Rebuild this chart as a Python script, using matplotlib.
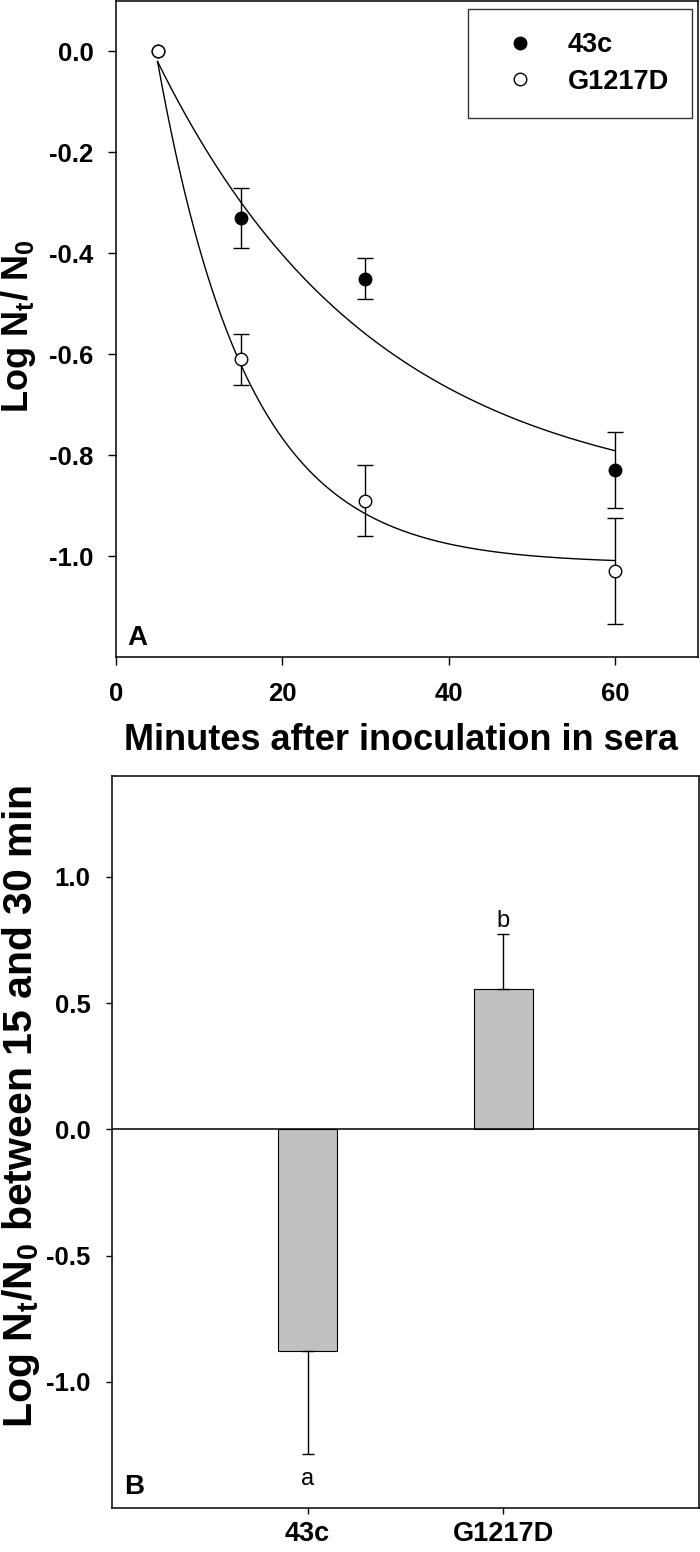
import numpy as np
import matplotlib
matplotlib.use("Agg")
import matplotlib.pyplot as plt
from matplotlib.lines import Line2D

plt.rcParams['font.family'] = ['Liberation Sans', 'DejaVu Sans']
plt.rcParams['mathtext.fontset'] = 'custom'
plt.rcParams['mathtext.rm'] = 'Liberation Sans:bold'
plt.rcParams['mathtext.bf'] = 'Liberation Sans:bold'

# panel A: survival in sera
minutes = [5, 15, 30, 60]
wt_mean = [0.0, -0.33, -0.45, -0.83]
wt_err = [0.0, 0.06, 0.04, 0.075]
mut_mean = [0.0, -0.61, -0.89, -1.03]
mut_err = [0.0, 0.05, 0.07, 0.105]

# fitted decay curves: y = c + a*exp(-k*(t - 5))
wt_fit = [-0.90, 0.88, 0.038]
mut_fit = [-1.015, 0.995, 0.0924]

# panel B: change between 15 and 30 min
strains = ['43c', 'G1217D']
change = [-0.877, 0.555]
change_err = [0.41, 0.22]
letters = ['a', 'b']

fig = plt.figure(figsize=(7, 15.52), dpi=100)

# ---------- panel A ----------
ax1 = fig.add_axes([116/700, 1 - 657/1552, 582/700, 656/1552])

t = np.linspace(5, 60, 200)
for fit in (wt_fit, mut_fit):
    c, a, k = fit
    ax1.plot(t, c + a*np.exp(-k*(t - 5)), color='black', lw=1.0, zorder=2)

ax1.errorbar(minutes[1:], wt_mean[1:], yerr=wt_err[1:], fmt='none', ecolor='black',
             elinewidth=1.0, capsize=6, capthick=1.0, zorder=3)
ax1.errorbar(minutes[1:], mut_mean[1:], yerr=mut_err[1:], fmt='none', ecolor='black',
             elinewidth=1.0, capsize=6, capthick=1.0, zorder=3)
ax1.plot(minutes, wt_mean, 'o', ms=9, mfc='black', mec='black', mew=1.0, zorder=4)
ax1.plot(minutes, mut_mean, 'o', ms=9, mfc='white', mec='black', mew=1.0, zorder=5)

ax1.set_xlim(0, 70)
ax1.set_ylim(-1.2, 0.1)
ax1.set_xticks([0, 20, 40, 60])
ax1.set_yticks([0.0, -0.2, -0.4, -0.6, -0.8, -1.0])
ax1.set_yticklabels(['0.0', '-0.2', '-0.4', '-0.6', '-0.8', '-1.0'])
ax1.tick_params(direction='out', length=5.8, width=1.0, labelsize=18.5)
ax1.tick_params(axis='x', pad=12)
ax1.tick_params(axis='y', pad=10.5)
for lab in ax1.get_xticklabels() + ax1.get_yticklabels():
    lab.set_fontweight('bold')
for sp in ax1.spines.values():
    sp.set_linewidth(1.1)

handles = [Line2D([], [], ls='none', marker='o', ms=9, mfc='black', mec='black'),
           Line2D([], [], ls='none', marker='o', ms=9, mfc='white', mec='black')]
leg = ax1.legend(handles, ['43c', 'G1217D'], loc='upper right',
                 bbox_to_anchor=(0.9897, 0.9878), frameon=True, fancybox=False,
                 prop={'weight': 'bold', 'size': 19.5}, borderpad=0.85,
                 handlelength=2.15, handletextpad=0.7, labelspacing=0.4,
                 borderaxespad=0, numpoints=1)
leg.get_frame().set_edgecolor('black')
leg.get_frame().set_linewidth(1.0)

ax1.text(0.02, 0.018, 'A', transform=ax1.transAxes, fontsize=20, fontweight='bold',
         ha='left', va='baseline')

fig.text(401/700, 1 - 750/1552, 'Minutes after inoculation in sera', fontsize=26,
         fontweight='bold', ha='center', va='baseline')
fig.text(19/700, 1 - 326/1552, r'Log N$_\mathbf{t}$/ N$_\mathbf{0}$', fontsize=26,
         fontweight='bold', rotation=90, ha='center', va='center')

# ---------- panel B ----------
ax2 = fig.add_axes([112/700, 1 - 1508/1552, 587/700, 732/1552])
pos = [1, 2]
ax2.bar(pos, change, width=0.3, color='#c0c0c0', edgecolor='black', linewidth=0.8, zorder=2)
lower = [change_err[0], 0]
upper = [0, change_err[1]]
ax2.errorbar(pos, change, yerr=[lower, upper], fmt='none', ecolor='black',
             elinewidth=1.0, capsize=4.5, capthick=1.0, zorder=3)
ax2.axhline(0, color='black', lw=1.1, zorder=4)

ax2.text(pos[0], -1.41, letters[0], fontsize=17, ha='center', va='baseline')
ax2.text(pos[1], 0.80, letters[1], fontsize=17, ha='center', va='baseline')

ax2.set_xlim(0, 3)
ax2.set_ylim(-1.5, 1.4)
ax2.set_xticks(pos)
ax2.set_xticklabels(strains)
ax2.set_yticks([1.0, 0.5, 0.0, -0.5, -1.0])
ax2.set_yticklabels(['1.0', '0.5', '0.0', '-0.5', '-1.0'])
ax2.tick_params(direction='out', length=4.3, width=1.0)
ax2.tick_params(axis='x', pad=5, labelsize=19.5)
ax2.tick_params(axis='y', pad=11, labelsize=18.5)
for lab in ax2.get_xticklabels() + ax2.get_yticklabels():
    lab.set_fontweight('bold')
for sp in ax2.spines.values():
    sp.set_linewidth(1.1)

ax2.text(0.02, 0.019, 'B', transform=ax2.transAxes, fontsize=20, fontweight='bold',
         ha='left', va='baseline')

fig.text(21/700, 1 - 1106/1552, r'Log N$_\mathbf{t}$/N$_\mathbf{0}$ between 15 and 30 min',
         fontsize=29.5, fontweight='bold', rotation=90, ha='center', va='center')

fig.savefig('out.png', dpi=100)
